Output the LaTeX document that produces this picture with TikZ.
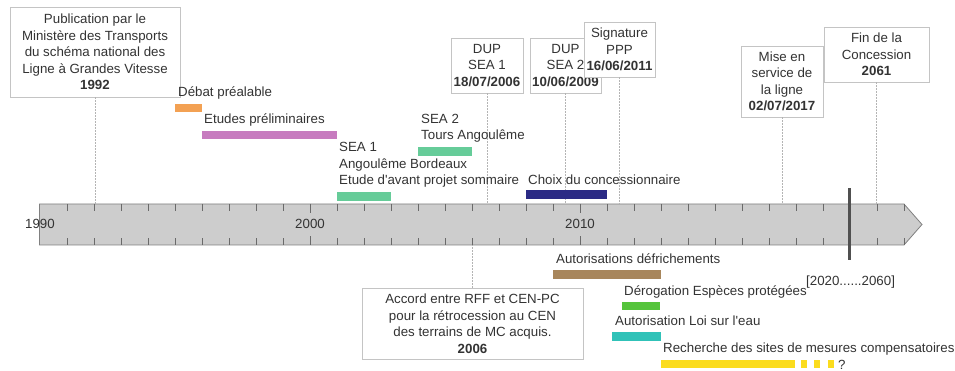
\documentclass[tikz,border=0pt]{standalone}
\usepackage{fontspec}
\setmainfont{Liberation Sans}
\definecolor{txt}{HTML}{333333}
\definecolor{boxc}{HTML}{C4C4C4}
\definecolor{connc}{HTML}{B4B4B4}
\definecolor{axisf}{HTML}{CDCDCD}
\definecolor{axisb}{HTML}{808080}
\definecolor{tickc}{HTML}{6A6A6A}
\definecolor{darkbar}{HTML}{505050}
\definecolor{cOrange}{HTML}{F3A153}
\definecolor{cPink}{HTML}{C77BBF}
\definecolor{cSea}{HTML}{66CC99}
\definecolor{cNavy}{HTML}{2B2A85}
\definecolor{cBrown}{HTML}{A8865C}
\definecolor{cGreen}{HTML}{55C43C}
\definecolor{cTeal}{HTML}{30C2B8}
\definecolor{cYellow}{HTML}{FBDC1E}
\begin{document}
\begin{tikzpicture}[x=1pt,y=-1pt,
  every node/.style={font=\fontsize{13.3}{16.5}\selectfont, text=txt, inner sep=0pt},
  box/.style={draw=boxc, line width=0.8pt, fill=white, align=center},
  conn/.style={draw=connc, line width=0.6pt, dash pattern=on 1.6pt off 1.4pt},
  lbl/.style={anchor=base west},
  ylbl/.style={anchor=base},
  tickline/.style={draw=tickc, line width=0.7pt}]
\useasboundingbox (0,0) rectangle (955,371);

% axis
\draw[draw=axisb, fill=axisf, line width=0.8pt]
  (39.5,204) -- (904,204) -- (922,224.5) -- (904,245) -- (39.5,245) -- cycle;
\foreach \i in {1,...,32} {
  \draw[tickline] ({40+27*\i},204) -- ++(0,7);
  \draw[tickline] ({40+27*\i},245) -- ++(0,-7);
}
\draw[tickline] (310,204) -- ++(0,9);
\draw[tickline] (310,245) -- ++(0,-9);
\draw[tickline] (580,204) -- ++(0,9);
\draw[tickline] (580,245) -- ++(0,-9);
\coordinate (axtop) at (0,204);
\coordinate (axbot) at (0,245);
\node[ylbl] (y1990) at (40,228.5) {1990};
\node[ylbl] (y2000) at (310,228.5) {2000};
\node[ylbl] (y2010) at (580,228.5) {2010};
\fill[darkbar] (847.5,188) rectangle (851,260);

% boxes
\node[box, minimum width=170pt, minimum height=90pt] (pub) at (95,52)
  {Publication par le\\Ministère des Transports\\du schéma national des\\Ligne à Grandes Vitesse\\\textbf{1992}};
\node[box, minimum width=72pt, minimum height=55pt] (dup1) at (487,65.5)
  {DUP\\SEA 1\\\textbf{18/07/2006}};
\node[box, minimum width=71pt, minimum height=55pt] (dup2) at (565.5,65.5)
  {DUP\\SEA 2\\\textbf{10/06/2009}};
\node[box, minimum width=71pt, minimum height=55pt] (sig) at (619.5,49.5)
  {Signature\\PPP\\\textbf{16/06/2011}};
\node[box, minimum width=82pt, minimum height=71pt] (mise) at (782,81.5)
  {Mise en\\service de\\la ligne\\\textbf{02/07/2017}};
\node[box, minimum width=105pt, minimum height=55pt] (fin) at (876.5,54.5)
  {Fin de la\\Concession\\\textbf{2061}};
\node[box, minimum width=221pt, minimum height=71pt] (accord) at (472.5,323.5)
  {Accord entre RFF et CEN-PC\\pour la rétrocession au CEN\\des terrains de MC acquis.\\\textbf{2006}};

% connectors
\draw[conn] (pub.south) -- (pub.south |- axtop);
\draw[conn] (dup1.south) -- (dup1.south |- axtop);
\draw[conn] (dup2.south) -- (dup2.south |- axtop);
\draw[conn] (sig.south) -- (sig.south |- axtop);
\draw[conn] (mise.south) -- (mise.south |- axtop);
\draw[conn] (fin.south) -- (fin.south |- axtop);
\draw[conn] (accord.north) -- (accord.north |- axbot);

% bars
\fill[cOrange] (175,104) rectangle (202,112);
\fill[cPink] (202,131) rectangle (337,139);
\fill[cSea] (337,192) rectangle (391,201);
\fill[cSea] (418,147) rectangle (472,156);
\fill[cNavy] (526,190) rectangle (607,199);
\fill[cBrown] (553,270) rectangle (661,279);
\fill[cGreen] (622,302) rectangle (660,310);
\fill[cTeal] (612,332) rectangle (661,341);
\fill[cYellow] (661,360) rectangle (795,368);
\fill[cYellow] (801,360) rectangle (807,368);
\fill[cYellow] (814,360) rectangle (820,368);
\fill[cYellow] (828,360) rectangle (834,368);

% labels
\node[lbl] (l1) at (178,97) {Débat préalable};
\node[lbl] (l2) at (204,124) {Etudes préliminaires};
\node[lbl] (l3a) at (339,152) {SEA 1};
\node[lbl] (l3b) at (339,168.5) {Angoulême Bordeaux};
\node[lbl] (l3c) at (339,185) {Etude d\textquotesingle avant projet sommaire};
\node[lbl] (l4a) at (421,123.5) {SEA 2};
\node[lbl] (l4b) at (421,140) {Tours Angoulême};
\node[lbl] (l5) at (528,184.5) {Choix du concessionnaire};
\node[lbl] (l6) at (556,263.5) {Autorisations défrichements};
\node[lbl] (l7) at (624,295) {Dérogation Espèces protégées};
\node[lbl] (l8) at (615,325) {Autorisation Loi sur l\textquotesingle eau};
\node[lbl] (l9) at (663,352.5) {Recherche des sites de mesures compensatoires};
\node[lbl] (l10) at (806,285) {[2020......2060]};
\node[lbl] (l11) at (838,369.5) {?};
\end{tikzpicture}
\end{document}
